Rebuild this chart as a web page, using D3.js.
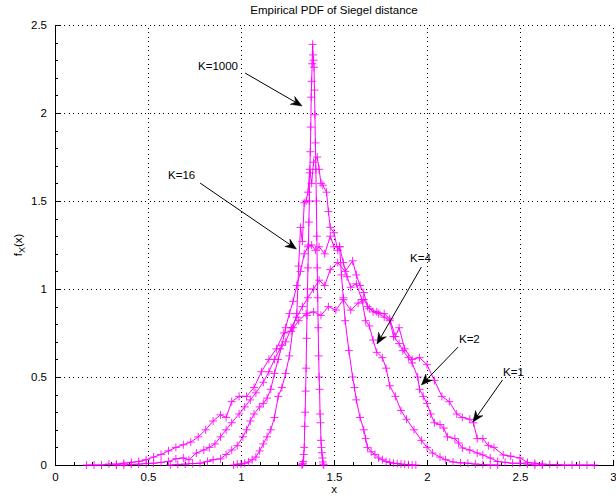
<!DOCTYPE html>
<html><head><meta charset="utf-8">
<script src="https://cdn.jsdelivr.net/npm/d3@7"></script>
<style>
html,body{margin:0;padding:0;background:#fff;}
text{font-family:"Liberation Sans",Arial,Helvetica,sans-serif;}
</style></head>
<body><svg id="c" width="616" height="499"></svg>
<script>
const title = "Empirical PDF of Siegel distance";
const xLabel = "x";
const xTicks = [0, 0.5, 1, 1.5, 2, 2.5, 3];
const xTickLabels = ["0", "0.5", "1", "1.5", "2", "2.5", "3"];
const yTicks = [0, 0.5, 1, 1.5, 2, 2.5];
const yTickLabels = ["0", "0.5", "1", "1.5", "2", "2.5"];

const k1X = [0.17,0.21,0.25,0.29,0.33,0.37,0.41,0.45,0.49,0.53,0.57,0.61,0.65,0.69,0.73,0.77,0.81,0.85,0.89,0.92,0.95,0.99,1.03,1.07,1.11,1.15,1.19,1.23,1.27,1.31,1.35,1.39,1.43,1.47,1.51,1.55,1.59,1.63,1.66,1.69,1.73,1.77,1.80,1.83,1.85,1.88,1.92,1.96,2.00,2.04,2.08,2.12,2.16,2.19,2.23,2.25,2.27,2.30,2.33,2.36,2.41,2.45,2.50,2.54,2.58,2.62,2.66,2.70,2.74,2.78,2.82,2.86,2.90];
const k1Y = [0,0,0,0.005,0.005,0.01,0.015,0.02,0.03,0.045,0.06,0.08,0.10,0.115,0.13,0.16,0.20,0.25,0.285,0.27,0.36,0.39,0.39,0.44,0.53,0.60,0.66,0.75,0.76,0.82,0.86,0.87,0.85,0.90,0.88,0.94,0.88,0.92,0.94,0.89,0.87,0.86,0.83,0.73,0.78,0.66,0.60,0.61,0.57,0.48,0.39,0.36,0.29,0.27,0.26,0.24,0.15,0.15,0.11,0.10,0.057,0.05,0.04,0.015,0.01,0.005,0.003,0.002,0,0,0,0,0];

const k2X = [0.33,0.37,0.41,0.45,0.49,0.53,0.57,0.61,0.65,0.69,0.72,0.76,0.80,0.83,0.86,0.89,0.92,0.95,0.99,1.02,1.05,1.08,1.12,1.15,1.18,1.21,1.24,1.27,1.30,1.33,1.36,1.39,1.42,1.45,1.48,1.52,1.56,1.60,1.62,1.64,1.66,1.68,1.71,1.74,1.77,1.80,1.82,1.85,1.87,1.90,1.92,1.95,1.96,1.98,2.00,2.02,2.04,2.07,2.09,2.11,2.15,2.17,2.19,2.23,2.27,2.30,2.34,2.38,2.42,2.46,2.50,2.54,2.58,2.62];
const k2Y = [0,0,0.003,0.005,0.008,0.01,0.015,0.02,0.035,0.04,0.03,0.068,0.085,0.10,0.12,0.16,0.20,0.24,0.29,0.33,0.37,0.41,0.47,0.53,0.60,0.66,0.70,0.78,0.84,0.90,0.95,1.00,1.05,1.02,1.11,1.15,1.10,1.16,1.08,1.02,0.98,0.90,0.87,0.86,0.84,0.82,0.73,0.69,0.65,0.61,0.58,0.50,0.43,0.39,0.35,0.29,0.24,0.23,0.21,0.16,0.15,0.125,0.097,0.085,0.068,0.057,0.04,0.02,0.015,0.01,0.01,0.005,0,0];

const k4X = [0.62,0.66,0.70,0.74,0.78,0.82,0.85,0.89,0.92,0.95,0.98,1.01,1.03,1.05,1.07,1.10,1.12,1.14,1.16,1.18,1.20,1.22,1.24,1.26,1.28,1.30,1.32,1.34,1.36,1.38,1.40,1.42,1.45,1.48,1.50,1.53,1.55,1.57,1.59,1.62,1.65,1.67,1.69,1.71,1.73,1.76,1.78,1.80,1.83,1.86,1.89,1.93,1.97,2.00,2.03,2.07,2.10,2.14,2.18,2.22,2.26,2.30,2.34,2.38];
const k4Y = [0,0.003,0.005,0.008,0.01,0.02,0.03,0.035,0.06,0.085,0.11,0.16,0.20,0.25,0.29,0.33,0.35,0.38,0.43,0.52,0.60,0.68,0.78,0.86,0.93,1.02,1.10,1.20,1.24,1.25,1.22,1.24,1.20,1.30,1.24,1.24,1.15,1.07,1.01,1.03,0.94,0.82,0.79,0.71,0.64,0.61,0.55,0.45,0.39,0.31,0.26,0.20,0.14,0.10,0.068,0.045,0.03,0.017,0.012,0.01,0.005,0.003,0,0];

const k16X = [0.96,0.98,1.00,1.02,1.04,1.06,1.08,1.10,1.12,1.14,1.16,1.18,1.20,1.22,1.24,1.26,1.28,1.30,1.31,1.32,1.33,1.34,1.35,1.36,1.37,1.38,1.39,1.41,1.42,1.43,1.44,1.46,1.47,1.48,1.50,1.52,1.53,1.54,1.55,1.56,1.58,1.60,1.61,1.62,1.64,1.66,1.67,1.68,1.70,1.72,1.74,1.76,1.78,1.80,1.82,1.84,1.86,1.88,1.90,1.92,1.94];
const k16Y = [0,0.005,0.005,0.01,0.017,0.03,0.045,0.08,0.12,0.16,0.20,0.27,0.39,0.44,0.52,0.62,0.78,0.86,1.13,1.35,1.27,1.49,1.50,1.55,1.68,1.60,1.72,1.75,1.68,1.60,1.59,1.55,1.44,1.35,1.32,1.22,1.24,1.08,0.95,0.82,0.65,0.50,0.44,0.37,0.27,0.20,0.15,0.10,0.075,0.06,0.04,0.03,0.02,0.015,0.01,0.008,0.005,0.003,0.002,0,0];

const k1000X = [1.3275,1.330,1.3325,1.335,1.3375,1.340,1.3425,1.345,1.3475,1.350,1.3525,1.355,1.3575,1.360,1.3625,1.365,1.3675,1.370,1.3725,1.375,1.3775,1.380,1.3825,1.385,1.3875,1.390,1.3925,1.395,1.3975,1.400,1.4025,1.405,1.4075,1.410,1.4125,1.415,1.4175,1.420,1.4225,1.425,1.4275,1.430,1.4325,1.435,1.4375,1.440,1.4425,1.445];
const k1000Y = [0,0.005,0.01,0.02,0.06,0.10,0.22,0.30,0.42,0.55,0.72,0.85,1.00,1.12,1.25,1.38,1.50,1.66,1.78,1.92,2.09,2.18,2.28,2.39,2.33,2.30,2.26,2.13,1.99,1.83,1.68,1.50,1.30,1.12,0.95,0.78,0.62,0.50,0.43,0.29,0.24,0.14,0.10,0.07,0.04,0.017,0.005,0];

const seriesNames = ["K=1","K=2","K=4","K=16","K=1000"];
const seriesX = [k1X,k2X,k4X,k16X,k1000X];
const seriesY = [k1Y,k2Y,k4Y,k16Y,k1000Y];
// annotation: [label, textX, textY, startX, startY, tipX, tipY] in data units
const annotations = [
  ["K=1000", 0.769, 2.267, 1.022, 2.227, 1.328, 2.040],
  ["K=16",   0.608, 1.648, 0.780, 1.602, 1.298, 1.227],
  ["K=4",    1.909, 1.176, 1.970, 1.125, 1.731, 0.6875],
  ["K=2",    2.172, 0.716, 2.167, 0.670, 1.970, 0.4545],
  ["K=1",    2.409, 0.528, 2.406, 0.483, 2.247, 0.244]
];

const svg = d3.select("#c");
const L = 55, R = 613, T = 25, B = 465;
const x = d3.scaleLinear().domain([0,3]).range([L,R]);
const y = d3.scaleLinear().domain([0,2.5]).range([B,T]);

// grid
const g = svg.append("g");
g.selectAll("line.vg").data(xTicks.filter(d=>d>0)).enter().append("line")
  .attr("x1",d=>x(d)).attr("x2",d=>x(d)).attr("y1",B).attr("y2",T)
  .attr("stroke","#000").attr("stroke-width",1).attr("stroke-dasharray","1,3.5").attr("shape-rendering","crispEdges");
g.selectAll("line.hg").data(yTicks.filter(d=>d>0)).enter().append("line")
  .attr("y1",d=>y(d)).attr("y2",d=>y(d)).attr("x1",L).attr("x2",R)
  .attr("stroke","#000").attr("stroke-width",1).attr("stroke-dasharray","1,3.5").attr("shape-rendering","crispEdges");

// axes
const xAxis = d3.axisBottom(x).tickValues(xTicks).tickFormat((d,i)=>xTickLabels[i]).tickSizeInner(-5).tickSizeOuter(0).tickPadding(8);
const yAxis = d3.axisLeft(y).tickValues(yTicks).tickFormat((d,i)=>yTickLabels[i]).tickSizeInner(-5).tickSizeOuter(0).tickPadding(8);
const xa = svg.append("g").attr("transform",`translate(0,${B})`).call(xAxis);
const ya = svg.append("g").attr("transform",`translate(${L},0)`).call(yAxis);
[xa,ya].forEach(a=>{
  a.select(".domain").attr("stroke","#000").attr("shape-rendering","crispEdges");
  a.selectAll(".tick line").attr("stroke","#000").attr("shape-rendering","crispEdges");
  a.selectAll(".tick text").attr("font-size",11.5).attr("fill","#000").attr("font-family","Liberation Sans, Arial, sans-serif");
});
// minor ticks
const xMinor = d3.axisBottom(x).tickValues(d3.range(0,3.001,0.1)).tickFormat("").tickSizeInner(-3).tickSizeOuter(0);
const yMinor = d3.axisLeft(y).tickValues(d3.range(0,2.501,0.1)).tickFormat("").tickSizeInner(-3).tickSizeOuter(0);
svg.append("g").attr("transform",`translate(0,${B})`).call(xMinor).call(a=>{a.select(".domain").remove();a.selectAll("line").attr("stroke","#000").attr("shape-rendering","crispEdges");});
svg.append("g").attr("transform",`translate(${L},0)`).call(yMinor).call(a=>{a.select(".domain").remove();a.selectAll("line").attr("stroke","#000").attr("shape-rendering","crispEdges");});

// curves
const line = d3.line().x(d=>x(d[0])).y(d=>y(d[1]));
const mag = "#ff00ff";
const cg = svg.append("g");
seriesNames.forEach((name,si)=>{
  const pts = seriesX[si].map((v,i)=>[v, seriesY[si][i]]);
  cg.append("path").datum(pts).attr("d",line).attr("fill","none").attr("stroke",mag).attr("stroke-width",1);
  const mk = cg.append("g");
  mk.selectAll("path").data(pts).enter().append("path")
    .attr("d",d=>{const px=x(d[0]),py=y(d[1]),s=4;return `M${px-s},${py}H${px+s}M${px},${py-s}V${py+s}`;})
    .attr("stroke",mag).attr("stroke-width",1).attr("opacity",0.85);
});

// annotations
const ag = svg.append("g");
annotations.forEach(a=>{
  const [lab,tx,ty,sx,sy,ex,ey] = a;
  ag.append("text").attr("x",x(tx)).attr("y",y(ty)).attr("dy","0.35em").attr("font-size",11.5).attr("fill","#000").text(lab);
  const x1=x(sx),y1=y(sy),x2=x(ex),y2=y(ey);
  const ang=Math.atan2(y2-y1,x2-x1);
  const hl=11, hw=4.5, back=7.5;
  const bx=x2-hl*Math.cos(ang), by=y2-hl*Math.sin(ang);
  const nx=-Math.sin(ang), ny=Math.cos(ang);
  const mx=x2-back*Math.cos(ang), my=y2-back*Math.sin(ang);
  ag.append("line").attr("x1",x1).attr("y1",y1).attr("x2",mx).attr("y2",my).attr("stroke","#000").attr("stroke-width",1);
  ag.append("path").attr("d",`M${x2},${y2}L${bx+nx*hw},${by+ny*hw}L${mx},${my}L${bx-nx*hw},${by-ny*hw}Z`).attr("fill","#000").attr("stroke","#000").attr("stroke-width",0.5);
});

// titles
svg.append("text").attr("x",(L+R)/2).attr("y",14).attr("text-anchor","middle").attr("font-size",11.5).attr("fill","#000").text(title);
svg.append("text").attr("x",(L+R)/2).attr("y",493).attr("text-anchor","middle").attr("font-size",11.5).attr("fill","#000").text(xLabel);
const yl = svg.append("text").attr("transform",`translate(22,${(T+B)/2}) rotate(-90)`).attr("text-anchor","middle").attr("font-size",11.5).attr("fill","#000");
yl.append("tspan").text("f");
yl.append("tspan").attr("font-size",9).attr("dy",3).text("X");
yl.append("tspan").attr("dy",-3).text("(x)");
</script></body></html>
